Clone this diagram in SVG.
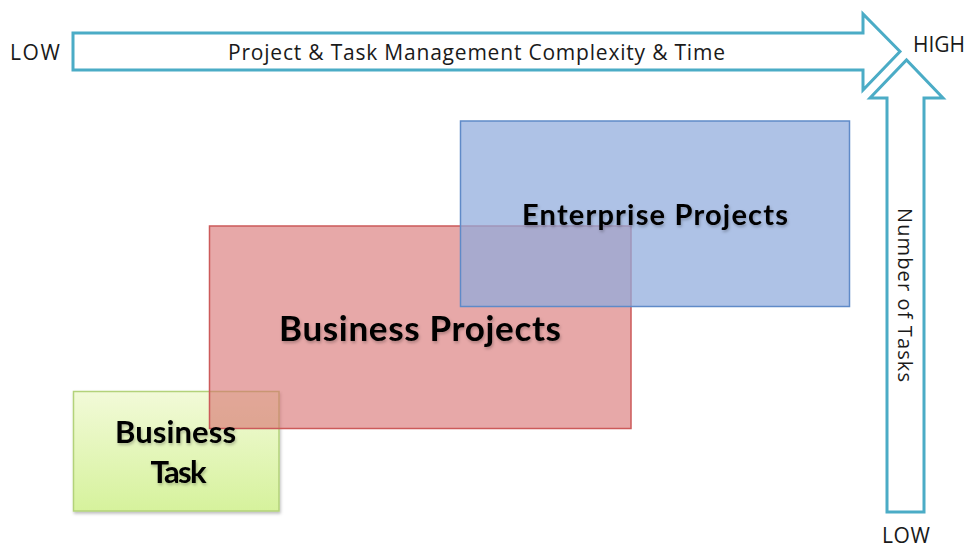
<svg xmlns="http://www.w3.org/2000/svg" width="969" height="548" viewBox="0 0 969 548">
<style>
.arrow{fill:#ffffff;stroke:#4bacc6;stroke-width:3;stroke-linejoin:miter}
.lbl{font-family:"Open Sans","Liberation Sans",sans-serif;fill:#1a1a1a}
.nl{font-family:Lato,"Open Sans","Liberation Sans",sans-serif;font-weight:bold;fill:#000;text-anchor:middle}
</style>
<defs>
<linearGradient id="gg" x1="0" y1="0" x2="0" y2="1">
<stop offset="0" stop-color="#f2fad8"/>
<stop offset="1" stop-color="#d6f29c"/>
</linearGradient>
<filter id="sh" x="-10%" y="-20%" width="120%" height="150%">
<feDropShadow dx="1" dy="2" stdDeviation="1.5" flood-color="#000" flood-opacity="0.25"/>
</filter>
</defs>
<g id="connectors">
<path id="axis-x" class="arrow" d="M73,33 L863,33 L863,14 L900,51.5 L863,90 L863,70 L73,70 Z"/>
<path id="axis-y" class="arrow" d="M887,512 L887,98 L870,98 L906.5,60 L943,98 L924,98 L924,512 Z"/>
</g>
<g id="labels">
<text class="lbl" x="10" y="60" font-size="21" textLength="50">LOW</text>
<text class="lbl" x="228" y="60" font-size="21" textLength="497">Project &amp; Task Management Complexity &amp; Time</text>
<text class="lbl" x="913" y="52" font-size="21" textLength="52">HIGH</text>
<text class="lbl" transform="translate(898,208) rotate(90)" font-size="20" textLength="174">Number of Tasks</text>
<text class="lbl" x="882" y="543" font-size="21" textLength="48">LOW</text>
</g>
<g id="business-task">
<rect x="73.5" y="391.5" width="205.5" height="119.5" fill="url(#gg)" stroke="#b3d27a" stroke-width="1.5" filter="url(#sh)"/>
</g>
<g id="business-projects">
<rect x="209.5" y="226" width="421.5" height="202.5" fill="rgb(215,110,110)" fill-opacity="0.6" stroke="#cc5a5a" stroke-width="1.5"/>
</g>
<g id="enterprise-projects">
<rect x="460.5" y="121" width="389" height="185.5" fill="rgb(144,171,221)" fill-opacity="0.73" stroke="#5f8ac8" stroke-width="1.5"/>
</g>
<g id="node-labels" filter="url(#sh)">
<text class="nl" x="175.5" y="443" font-size="31" textLength="121">Business</text>
<text class="nl" x="178.5" y="483" font-size="31" textLength="56">Task</text>
<text class="nl" x="420" y="341" font-size="35" textLength="282">Business Projects</text>
<text class="nl" x="655" y="225" font-size="29" textLength="266">Enterprise Projects</text>
</g>
</svg>
